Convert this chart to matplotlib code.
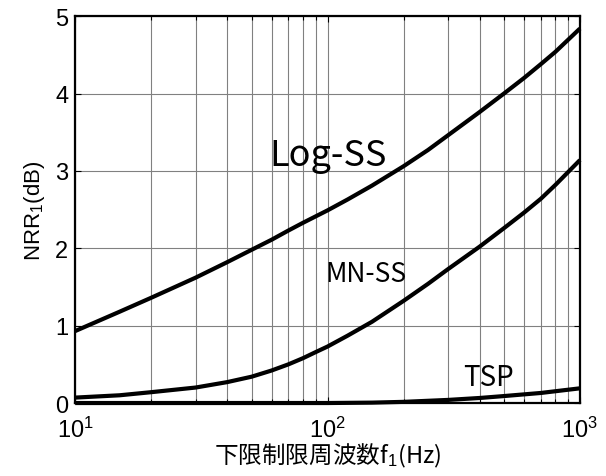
import numpy as np
import matplotlib
matplotlib.use('Agg')
import matplotlib.pyplot as plt
from matplotlib.ticker import LogLocator, FixedLocator

plt.rcParams['font.family'] = ['Liberation Sans', 'Noto Sans CJK JP']
plt.rcParams['mathtext.fontset'] = 'custom'
plt.rcParams['mathtext.rm'] = 'Liberation Sans'
plt.rcParams['mathtext.it'] = 'Liberation Sans'

# values
freq_log = [10, 15, 20, 30, 40, 50, 60, 70, 80, 100, 120, 150, 200, 250, 300, 400, 500, 600, 700, 800, 1000]
nrr_log = [0.93, 1.18, 1.36, 1.62, 1.82, 1.98, 2.11, 2.23, 2.33, 2.49, 2.63, 2.81, 3.06, 3.27, 3.46, 3.76, 4.00, 4.20, 4.38, 4.54, 4.84]

freq_mn = [10, 15, 20, 30, 40, 50, 60, 70, 80, 90, 100, 120, 150, 200, 250, 300, 400, 500, 600, 700, 800, 1000]
nrr_mn = [0.07, 0.10, 0.14, 0.20, 0.27, 0.34, 0.42, 0.50, 0.58, 0.66, 0.73, 0.87, 1.05, 1.32, 1.54, 1.73, 2.02, 2.26, 2.46, 2.64, 2.82, 3.14]

freq_tsp = [10, 50, 100, 150, 200, 300, 400, 500, 700, 1000]
nrr_tsp = [0.0, 0.0, 0.0, 0.005, 0.015, 0.04, 0.065, 0.09, 0.13, 0.19]

fig = plt.figure(figsize=(6.06, 4.77), dpi=100)
ax = fig.add_axes([0.124, 0.153, 0.833, 0.811])

for f, v in ((freq_log, nrr_log), (freq_mn, nrr_mn), (freq_tsp, nrr_tsp)):
    ax.plot(f, v, color='black', lw=3.0, solid_capstyle='butt', solid_joinstyle='round',
            clip_on=False, zorder=3)

ax.set_xscale('log')
ax.set_xlim(10, 1000)
ax.set_ylim(0, 5)
ax.yaxis.set_major_locator(FixedLocator([0, 1, 2, 3, 4, 5]))
ax.xaxis.set_minor_locator(LogLocator(base=10, subs=np.arange(2, 10)))

ax.grid(True, which='major', color='#808080', lw=0.8)
ax.grid(True, which='minor', axis='x', color='#808080', lw=0.8)
ax.set_axisbelow(True)

ax.tick_params(which='both', direction='in', top=True, right=True, labelsize=17)
ax.tick_params(which='major', length=4, width=0.8)
ax.tick_params(which='minor', length=3, width=0.8)
ax.tick_params(axis='x', pad=10)
ax.tick_params(axis='y', pad=5)
for s in ax.spines.values():
    s.set_linewidth(1.6)

ax.text(59, 3.2, 'Log-SS', fontsize=26, family=['Noto Sans CJK JP'], va='center')
ax.text(98, 1.68, 'MN-SS', fontsize=19, family=['Noto Sans CJK JP'], va='center')
ax.text(345, 0.34, 'TSP', fontsize=20, family=['Noto Sans CJK JP'], va='center')

ax.set_xlabel('下限制限周波数f$_1$(Hz)', fontsize=17, family=['Noto Sans CJK JP', 'DejaVu Sans'], labelpad=-1)
ax.set_ylabel('NRR$_1$(dB)', fontsize=16, labelpad=6)

fig.savefig('out.png', dpi=100)
